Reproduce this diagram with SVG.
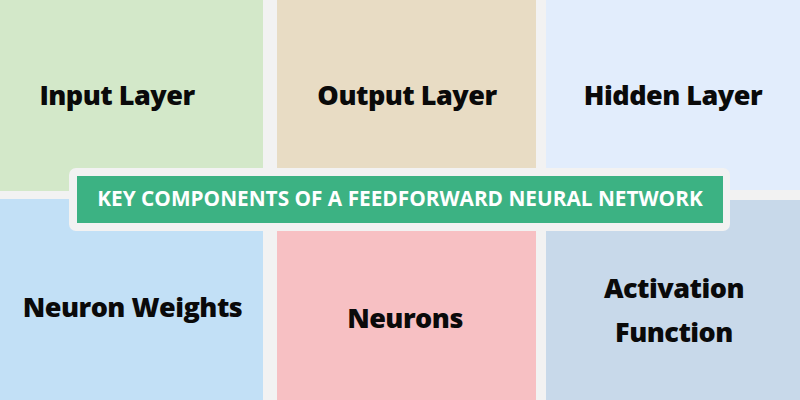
<svg xmlns="http://www.w3.org/2000/svg" width="800" height="400" viewBox="0 0 800 400">
<style>
.lbl{font-family:"Open Sans","Noto Sans","Liberation Sans",sans-serif;font-weight:800;font-size:27px;letter-spacing:-0.5px;fill:#0a0a0a;text-anchor:middle}
.ttl{font-family:"Open Sans","Noto Sans","Liberation Sans",sans-serif;font-weight:700;font-size:20.8px;fill:#ffffff;text-anchor:middle}
</style>
<rect x="0" y="0" width="800" height="400" fill="#f2f2f2"/>
<g id="input-layer"><rect x="0" y="0" width="263" height="191" fill="#d3e8c9"/><text class="lbl" x="117" y="105">Input Layer</text></g>
<g id="output-layer"><rect x="277" y="0" width="259" height="200" fill="#e8dcc4"/><text class="lbl" x="407" y="105">Output Layer</text></g>
<g id="hidden-layer"><rect x="546" y="0" width="254" height="190" fill="#e2edfc"/><text class="lbl" x="673" y="105">Hidden Layer</text></g>
<g id="neuron-weights"><rect x="0" y="199" width="263" height="201" fill="#c2e0f6"/><text class="lbl" x="132.5" y="317">Neuron Weights</text></g>
<g id="neurons"><rect x="277" y="231" width="259" height="169" fill="#f7c0c3"/><text class="lbl" x="405" y="328">Neurons</text></g>
<g id="activation-function"><rect x="546" y="200" width="254" height="200" fill="#c8d9ea"/><text class="lbl" x="674" y="298">Activation</text><text class="lbl" x="674" y="342">Function</text></g>
<g id="title"><rect x="69" y="168" width="661" height="63" rx="7" fill="#f2f2f2"/><rect x="77" y="176" width="646" height="47" fill="#3cb283"/><text class="ttl" x="400" y="206">KEY COMPONENTS OF A FEEDFORWARD NEURAL NETWORK</text></g>
<g id="connectors"/>
</svg>
